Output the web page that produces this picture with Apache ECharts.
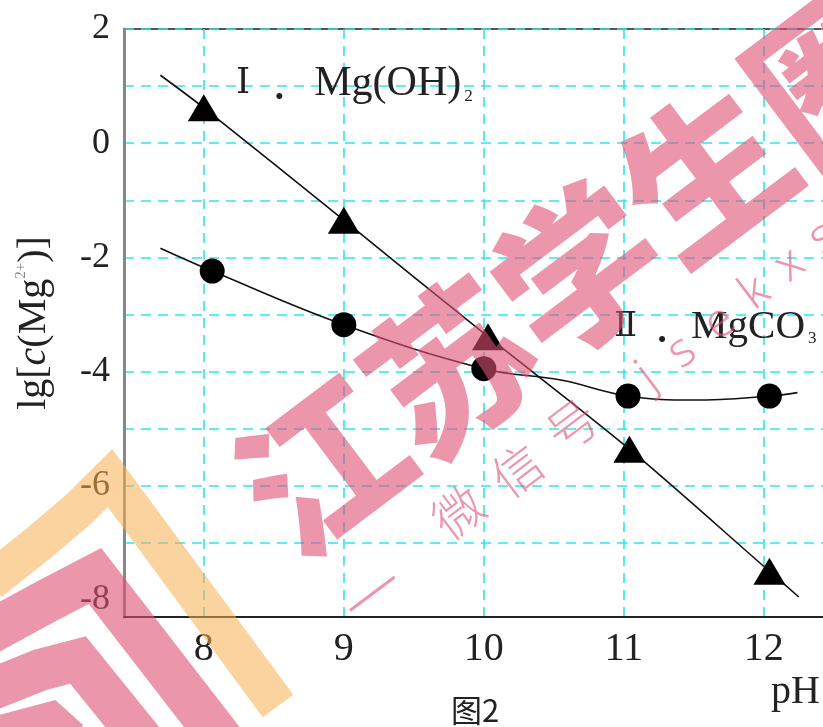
<!DOCTYPE html>
<html>
<head>
<meta charset="utf-8">
<script src="https://cdn.jsdelivr.net/npm/echarts@6/dist/echarts.min.js"></script>
<style>
  html, body { margin: 0; padding: 0; background: #fff; }
  #chart { width: 823px; height: 727px; }
</style>
</head>
<body>
<div id="chart"></div>
<script>
// Axis ticks
const phTicks = [8, 9, 10, 11, 12];
const lgGridTicks = [-7, -6, -5, -4, -3, -2, -1, 0, 1, 2];
const lgLabelTicks = [-8, -6, -4, -2, 0, 2];

// I. Mg(OH)2 — measured points and fitted curve
const ohPH = [8, 9, 10.03, 11.04, 12.04];
const ohLg = [0.62, -1.35, -3.39, -5.36, -7.5];
const ohCurvePH = [7.69, 8, 9, 10.03, 11.04, 12.04, 12.25];
const ohCurveLg = [1.19, 0.62, -1.35, -3.39, -5.36, -7.5, -7.95];

// II. MgCO3 — measured points and fitted curve
const co3PH = [8.06, 9, 10, 11.03, 12.04];
const co3Lg = [-2.24, -3.18, -3.95, -4.43, -4.43];
const co3CurvePH = [7.69, 8.06, 9, 10, 10.55, 11.03, 11.5, 12.04, 12.24];
const co3CurveLg = [-1.84, -2.24, -3.18, -3.95, -4.15, -4.43, -4.5, -4.43, -4.37];

const zip = (xs, ys) => xs.map((x, i) => [x, ys[i]]);

const SERIF = "'Liberation Serif', 'DejaVu Serif', 'Noto Sans CJK SC', serif";
const INK = '#222';
const PINK = 'rgba(222, 80, 115, 0.6)';
const ORANGE = 'rgba(245, 175, 80, 0.55)';
const DEG = Math.PI / 180;

// Watermark: large diagonal characters
const bigChars = ['江', '苏', '学', '生', '圈'];
const bigStart = [322, 466], bigStep = [128, -98];
const smallMarks = [
  ['—', 368, 588], ['微', 458, 512], ['信', 517, 470], ['号', 572, 425],
  ['j', 647, 377], ['s', 682, 352], ['e', 720, 323], ['k', 755, 293], ['x', 790, 265], ['s', 823, 238]
];

const graphics = [];
bigChars.forEach((ch, i) => {
  graphics.push({
    type: 'text', z: 100, silent: true,
    x: bigStart[0] + bigStep[0] * i, y: bigStart[1] + bigStep[1] * i,
    rotation: 37 * DEG,
    style: { text: ch, fill: PINK, font: "900 162px 'Noto Sans CJK SC'", align: 'center', verticalAlign: 'middle' }
  });
});
smallMarks.forEach(([ch, x, y]) => {
  const cjk = /[\u4e00-\u9fff]/.test(ch);
  const font = ch === '—' ? "300 70px 'Noto Sans CJK SC'"
    : cjk ? "300 50px 'Noto Sans CJK SC'" : "300 48px 'Noto Sans', sans-serif";
  graphics.push({
    type: 'text', z: 100, silent: true, x, y, rotation: 37 * DEG,
    style: { text: ch, fill: PINK, font, align: 'center', verticalAlign: 'middle' }
  });
});

// Corner emblem bands
const bands = [
  { color: ORANGE, width: 38, pts: [[-10, 582], [40, 542], [80, 508], [110, 478], [278, 706]] },
  { color: PINK, width: 44, pts: [[-10, 632], [45, 602], [95, 576], [245, 770]] },
  { color: PINK, width: 42, pts: [[-10, 690], [40, 670], [78, 660], [175, 780]] },
  { color: PINK, width: 40, pts: [[-10, 738], [50, 722], [70, 740]] }
];
bands.forEach(b => {
  graphics.push({
    type: 'polyline', z: 99, silent: true,
    shape: { points: b.pts },
    style: { stroke: b.color, lineWidth: b.width, fill: null, lineJoin: 'miter', lineCap: 'butt' }
  });
});

// Curve captions, axis unit and figure caption
graphics.push({
  type: 'text', z: 50, x: 236, y: 84,
  style: {
    text: '{r|Ⅰ}{d|．}{t|Mg(OH)}{s|2}', fill: INK, verticalAlign: 'middle',
    rich: {
      r: { fontSize: 36, fontFamily: SERIF, padding: [0, 20, 0, 0] },
      d: { fontSize: 38, fontFamily: "'Noto Sans CJK SC'", padding: [0, 6, 0, 0] },
      t: { fontSize: 42, fontFamily: SERIF },
      s: { fontSize: 17, fontFamily: SERIF, verticalAlign: 'bottom', padding: [0, 0, 0, 3] }
    }
  }
});
graphics.push({
  type: 'text', z: 50, x: 614, y: 327,
  style: {
    text: '{r|Ⅱ}{d|．}{t|MgCO}{s|3}', fill: INK, verticalAlign: 'middle',
    rich: {
      r: { fontSize: 34, fontFamily: SERIF, padding: [0, 16, 0, 0] },
      d: { fontSize: 38, fontFamily: "'Noto Sans CJK SC'" },
      t: { fontSize: 41, fontFamily: SERIF },
      s: { fontSize: 17, fontFamily: SERIF, verticalAlign: 'bottom', padding: [0, 0, 0, 3] }
    }
  }
});
graphics.push({
  type: 'text', z: 50, x: 771, y: 692,
  style: { text: 'pH', fill: INK, font: "40px 'Liberation Serif'", verticalAlign: 'middle' }
});
graphics.push({
  type: 'text', z: 50, x: 451, y: 710,
  style: { text: '图2', fill: '#222', font: "31px 'Noto Sans CJK SC'", verticalAlign: 'middle' }
});

const chart = echarts.init(document.getElementById('chart'), null, { renderer: 'canvas' });
chart.setOption({
  animation: false,
  backgroundColor: '#fff',
  grid: {
    left: 124, top: 29, width: 765, height: 588,
    outerBoundsMode: 'none',
    show: true, borderColor: '#555', borderWidth: 2, backgroundColor: 'transparent'
  },
  xAxis: {
    type: 'value', min: 7.43, max: 12.894,
    axisLine: { show: true, onZero: false, lineStyle: { color: '#222', width: 2 } },
    axisTick: { show: false, customValues: phTicks },
    axisLabel: { customValues: phTicks, fontSize: 40, fontFamily: SERIF, color: INK, margin: 12 },
    splitLine: { show: true, lineStyle: { color: '#2fe3f2', type: [10, 7], width: 1.6 } }
  },
  yAxis: {
    type: 'value', min: -8.3, max: 2,
    name: '{a|lg[}{i|c}{a|(Mg}{p|2+}{a|)]}',
    nameLocation: 'middle', nameRotate: 90, nameGap: 70,
    nameTextStyle: {
      color: INK,
      rich: {
        a: { fontSize: 40, fontFamily: SERIF, color: INK },
        i: { fontSize: 40, fontFamily: SERIF, fontStyle: 'italic', color: INK },
        p: { fontSize: 15, fontFamily: SERIF, color: '#888', verticalAlign: 'top' }
      }
    },
    axisLine: { show: true, onZero: false, lineStyle: { color: '#888', width: 3 } },
    axisTick: { show: false, customValues: lgGridTicks },
    axisLabel: { customValues: lgLabelTicks, fontSize: 36, fontFamily: SERIF, color: INK, margin: 14 },
    splitLine: { show: true, lineStyle: { color: '#2fe3f2', type: [10, 7], width: 1.6 } }
  },
  series: [
    {
      name: 'Mg(OH)2 curve', type: 'line', data: zip(ohCurvePH, ohCurveLg),
      smooth: 0.3, showSymbol: false, z: 3,
      lineStyle: { color: '#111', width: 1.6 }
    },
    {
      name: 'Mg(OH)2', type: 'scatter', data: zip(ohPH, ohLg),
      symbol: 'triangle', symbolSize: [32, 27], z: 4,
      itemStyle: { color: '#000', opacity: 1 }
    },
    {
      name: 'MgCO3 curve', type: 'line', data: zip(co3CurvePH, co3CurveLg),
      smooth: 0.4, showSymbol: false, z: 3,
      lineStyle: { color: '#111', width: 1.6 }
    },
    {
      name: 'MgCO3', type: 'scatter', data: zip(co3PH, co3Lg),
      symbol: 'circle', symbolSize: 25, z: 4,
      itemStyle: { color: '#000', opacity: 1 }
    }
  ],
  graphic: graphics
});
</script>
</body>
</html>
